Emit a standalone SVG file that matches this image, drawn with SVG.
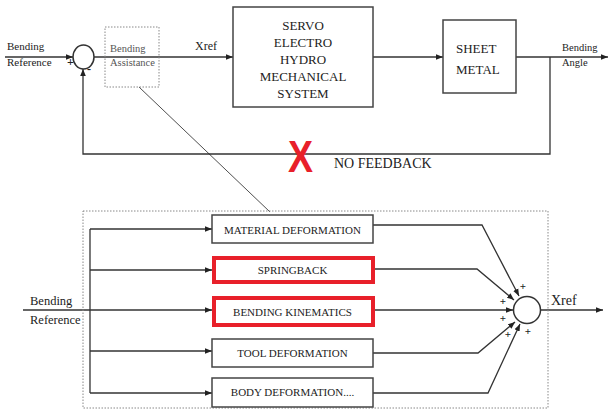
<svg xmlns="http://www.w3.org/2000/svg" width="611" height="410" viewBox="0 0 611 410">
<defs>
<marker id="ah" viewBox="0 0 10 10" refX="10" refY="5" markerWidth="7" markerHeight="7" markerUnits="userSpaceOnUse" orient="auto">
<path d="M0,1 L10,5 L0,9 z" fill="#222"/>
</marker>
</defs>
<style>
.box{fill:#fff;stroke:#444;stroke-width:1.5}
.red{fill:#fff;stroke:#e8202a;stroke-width:4}
.dot{fill:none;stroke:#888;stroke-width:1;stroke-dasharray:1.5 1.5}
.ln{fill:none;stroke:#333;stroke-width:1.3}
.ar{fill:none;stroke:#333;stroke-width:1.3;marker-end:url(#ah)}
</style>
<rect width="611" height="410" fill="#fff"/>
<g id="connectors">
<line class="ar" x1="5" y1="57" x2="73" y2="57"/>
<line class="ar" x1="94" y1="57" x2="233" y2="57"/>
<line class="ar" x1="373" y1="57" x2="443" y2="57"/>
<line class="ar" x1="516" y1="57" x2="608" y2="57"/>
<path class="ar" d="M550,57 V154 H83 V69"/>
<line x1="139" y1="87" x2="270" y2="212" stroke="#222" stroke-width="0.8"/>
<line class="ar" x1="23" y1="310" x2="212" y2="310"/>
<line class="ln" x1="90" y1="229" x2="90" y2="393"/>
<line class="ar" x1="90" y1="229" x2="212" y2="229"/>
<line class="ar" x1="90" y1="270" x2="212" y2="270"/>
<line class="ar" x1="90" y1="351" x2="212" y2="351"/>
<line class="ar" x1="90" y1="393" x2="212" y2="393"/>
<path class="ar" d="M373,225 H482 L519,296"/>
<path class="ar" d="M375,269 H477 L514,300"/>
<line class="ar" x1="375" y1="310" x2="513" y2="310"/>
<path class="ar" d="M373,353 H478 L515,322"/>
<path class="ar" d="M373,393 H488 L520,324"/>
<line class="ar" x1="540" y1="310" x2="603" y2="310"/>
</g>
<g font-family="'Liberation Serif', 'Times New Roman', Times, serif" fill="#222">
<g id="input-top" font-size="11">
<text x="7" y="50">Bending</text>
<text x="7" y="66">Reference</text>
</g>
<g id="sum-top">
<ellipse cx="83.5" cy="57" rx="10.5" ry="12" fill="#fff" stroke="#333" stroke-width="1.5"/>
<text x="67" y="66" font-size="12" font-weight="bold">+</text>
<text x="87" y="73" font-size="12" font-weight="bold">-</text>
</g>
<g id="bending-assistance" font-size="10.5" fill="#555">
<rect class="dot" x="105" y="27" width="54" height="60"/>
<text x="110" y="52">Bending</text>
<text x="110" y="66">Assistance</text>
</g>
<g id="xref-top"><text x="195" y="50" font-size="12">Xref</text></g>
<g id="servo" font-size="13" text-anchor="middle">
<rect class="box" x="233" y="7" width="140" height="100"/>
<text x="303" y="30">SERVO</text>
<text x="303" y="47">ELECTRO</text>
<text x="303" y="64">HYDRO</text>
<text x="303" y="81">MECHANICAL</text>
<text x="303" y="98">SYSTEM</text>
</g>
<g id="sheet-metal" font-size="13">
<rect class="box" x="443" y="20" width="73" height="73"/>
<text x="456" y="53">SHEET</text>
<text x="456" y="74">METAL</text>
</g>
<g id="output-top" font-size="10.5">
<text x="562" y="51">Bending</text>
<text x="562" y="66">Angle</text>
</g>
<g id="no-feedback">
<text x="288" y="172" textLength="25" lengthAdjust="spacingAndGlyphs" font-family="'Liberation Sans', Arial, sans-serif" font-size="44" font-weight="bold" fill="#e8202a">X</text>
<text x="334" y="168" font-size="14">NO FEEDBACK</text>
</g>
<g id="assistance-detail">
<rect class="dot" x="83" y="211" width="465" height="197"/>
</g>
<g id="input-bottom" font-size="12.5">
<text x="30" y="305">Bending</text>
<text x="30" y="324">Reference</text>
</g>
<g font-size="11" text-anchor="middle">
<g id="material-deformation">
<rect class="box" x="212" y="215" width="161" height="28"/>
<text x="292.5" y="233.5">MATERIAL DEFORMATION</text>
</g>
<g id="springback">
<rect class="red" x="214" y="258" width="159" height="24"/>
<text x="292.5" y="274">SPRINGBACK</text>
</g>
<g id="bending-kinematics">
<rect class="red" x="214" y="298" width="159" height="27"/>
<text x="292.5" y="316">BENDING KINEMATICS</text>
</g>
<g id="tool-deformation">
<rect class="box" x="212" y="339" width="161" height="28"/>
<text x="292.5" y="357">TOOL DEFORMATION</text>
</g>
<g id="body-deformation">
<rect class="box" x="212" y="378" width="161" height="29"/>
<text x="292.5" y="396">BODY DEFORMATION....</text>
</g>
</g>
<g id="sum-bottom">
<circle cx="527" cy="310" r="13.5" fill="#fff" stroke="#333" stroke-width="1.5"/>
<g font-size="11" font-weight="bold" text-anchor="middle" fill="#222">
<text x="523" y="290">+</text>
<text x="503" y="305">+</text>
<text x="503" y="322">+</text>
<text x="508" y="338">+</text>
<text x="528" y="335">+</text>
</g>
</g>
<g id="xref-bottom"><text x="551" y="305" font-size="14">Xref</text></g>
</g>
</svg>
